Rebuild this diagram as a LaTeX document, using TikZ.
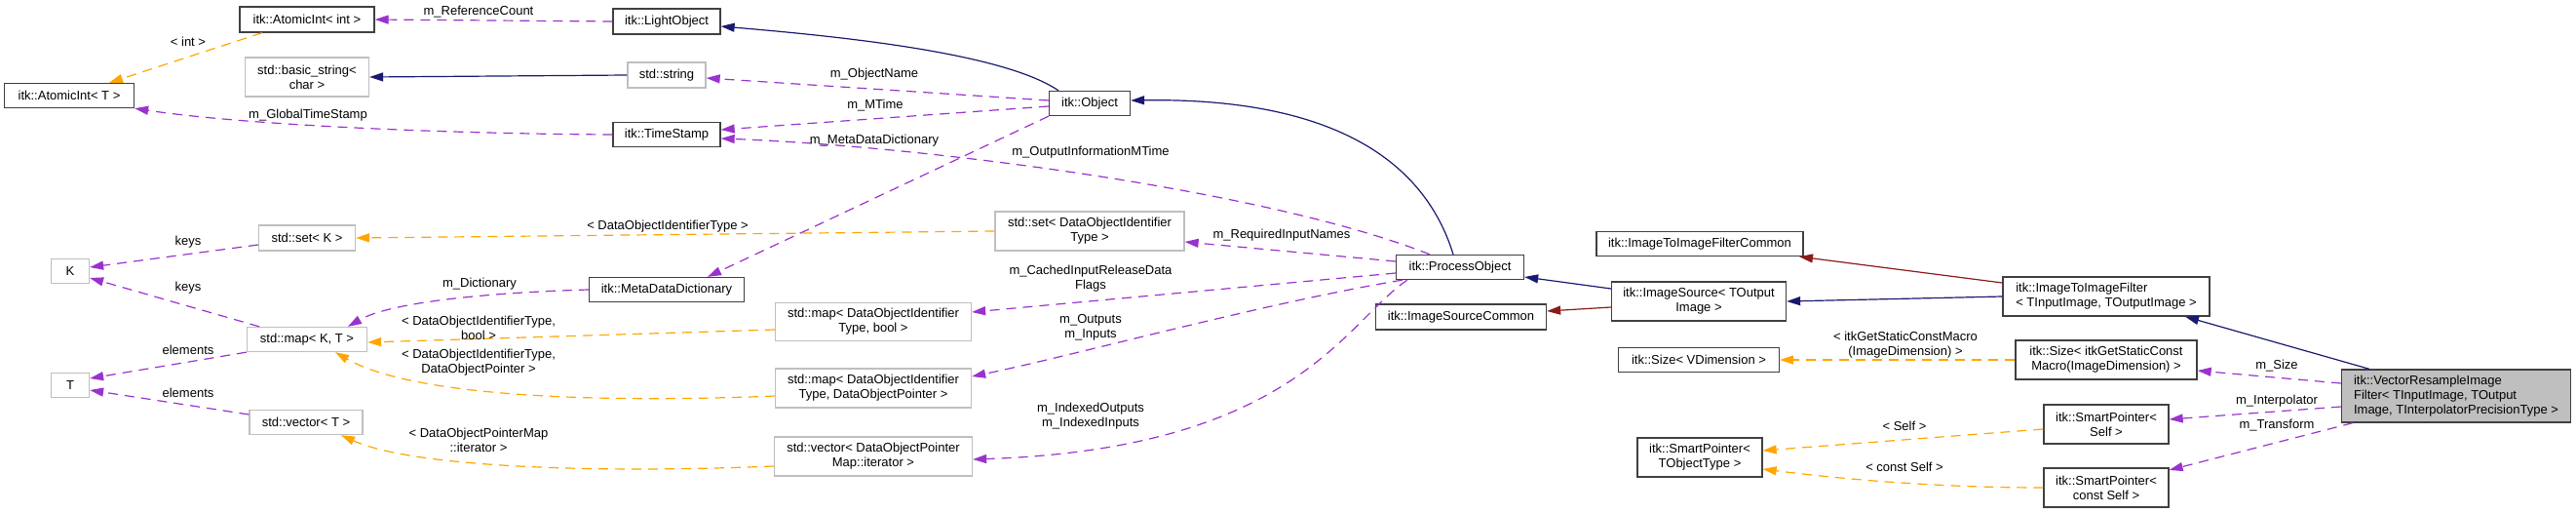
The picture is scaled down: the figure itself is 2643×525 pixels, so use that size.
\documentclass[tikz,border=0pt]{standalone}
\usepackage{fontspec}
\setmainfont{Liberation Sans}
\usetikzlibrary{arrows.meta}
\definecolor{inheritblue}{HTML}{191970}
\definecolor{privatered}{HTML}{8B1A1A}
\definecolor{usagepurple}{HTML}{9A32CD}
\definecolor{templorange}{HTML}{FFA500}
\definecolor{boxgrey}{HTML}{BFBFBF}
\definecolor{framedark}{HTML}{404040}
\tikzset{
  classnode/.style = {rectangle, inner sep=0pt, align=center,
    font=\fontsize{13}{15}\selectfont, line width=1.3pt, fill=white},
  doc_node/.style = {classnode, draw=framedark},% classe documentee
  undoc_node/.style = {classnode, draw=boxgrey},% classe externe (std, K, T)
  main_node/.style = {classnode, draw=framedark, fill=boxgrey},% classe du graphe
  edge_label/.style = {inner sep=0pt, align=center,
    font=\fontsize{13}{15}\selectfont},
  base_edge/.style = {-{Triangle[length=14pt,width=9pt]}, line width=1.2pt},
  public_edge/.style = {base_edge, draw=inheritblue},% heritage
  private_edge/.style = {base_edge, draw=privatered},% heritage prive
  usage_edge/.style = {base_edge, draw=usagepurple,
    dash pattern=on 10pt off 7pt},% membre
  templ_edge/.style = {base_edge, draw=templorange,
    dash pattern=on 10pt off 7pt}% instance de template
}
\begin{document}
\begin{tikzpicture}[x=1pt, y=-1pt]
  \useasboundingbox (0,0) rectangle (2643,525);
  % colonne de gauche
  \node [doc_node, minimum width=138pt, minimum height=26pt] (atomic_int) at (315,20) {itk::AtomicInt< int >};
  \node [doc_node, minimum width=133pt, minimum height=25pt] (atomic_t) at (71,98) {itk::AtomicInt< T >};
  \node [undoc_node, minimum width=127pt, minimum height=40pt] (basic_string) at (315,79) {std::basic\_string<\\char >};
  \node [undoc_node, minimum width=99pt, minimum height=26pt] (set_k) at (315,244) {std::set< K >};
  \node [undoc_node, minimum width=39pt, minimum height=25pt] (key_k) at (72,278) {K};
  \node [undoc_node, minimum width=39pt, minimum height=25pt] (elem_t) at (72,395) {T};
  \node [undoc_node, minimum width=123pt, minimum height=25pt] (map_kt) at (315,348) {std::map< K, T >};
  \node [undoc_node, minimum width=116pt, minimum height=25pt] (vector_t) at (314,433) {std::vector< T >};
  % colonne du milieu
  \node [doc_node, minimum width=110pt, minimum height=26pt] (light_obj) at (684,22) {itk::LightObject};
  \node [undoc_node, minimum width=80pt, minimum height=26pt] (std_string) at (684,77) {std::string};
  \node [doc_node, minimum width=110pt, minimum height=25pt] (time_stamp) at (684,138) {itk::TimeStamp};
  \node [doc_node, minimum width=159pt, minimum height=25pt] (meta_dict) at (684,297) {itk::MetaDataDictionary};
  \node [undoc_node, minimum width=201pt, minimum height=39pt] (map_bool) at (896,330) {std::map< DataObjectIdentifier\\Type, bool >};
  \node [undoc_node, minimum width=201pt, minimum height=40pt] (map_ptr) at (896,398) {std::map< DataObjectIdentifier\\Type, DataObjectPointer >};
  \node [undoc_node, minimum width=203pt, minimum height=40pt] (vector_it) at (896,468) {std::vector< DataObjectPointer\\Map::iterator >};
  \node [doc_node, minimum width=83pt, minimum height=25pt] (itk_object) at (1118,106) {itk::Object};
  \node [undoc_node, minimum width=194pt, minimum height=40pt] (set_id) at (1118,237) {std::set< DataObjectIdentifier\\Type >};
  % colonne de droite
  \node [doc_node, minimum width=131pt, minimum height=25pt] (process_obj) at (1498,274) {itk::ProcessObject};
  \node [doc_node, minimum width=175pt, minimum height=26pt] (source_common) at (1499,325) {itk::ImageSourceCommon};
  \node [doc_node, minimum width=179pt, minimum height=40pt] (image_source) at (1743,309) {itk::ImageSource< TOutput\\Image >};
  \node [doc_node, minimum width=212pt, minimum height=25pt] (filter_common) at (1744,250) {itk::ImageToImageFilterCommon};
  \node [doc_node, minimum width=165pt, minimum height=25pt] (size_vdim) at (1743,369) {itk::Size< VDimension >};
  \node [doc_node, minimum width=128pt, minimum height=40pt] (smart_obj) at (1744,469) {itk::SmartPointer<\\TObjectType >};
  \node [doc_node, align=left, minimum width=212pt, minimum height=40pt] (image_filter) at (2161,304) {itk::ImageToImageFilter\\< TInputImage, TOutputImage >};
  \node [doc_node, minimum width=186pt, minimum height=40pt] (size_macro) at (2161,369) {itk::Size< itkGetStaticConst\\Macro(ImageDimension) >};
  \node [doc_node, minimum width=128pt, minimum height=40pt] (smart_self) at (2161,435) {itk::SmartPointer<\\Self >};
  \node [doc_node, minimum width=128pt, minimum height=40pt] (smart_const) at (2161,500) {itk::SmartPointer<\\const Self >};
  \node [main_node, align=left, minimum width=235pt, minimum height=54pt] (vec_resample) at (2520,406) {itk::VectorResampleImage\\Filter< TInputImage, TOutput\\Image, TInterpolatorPrecisionType >};

  % heritage
  \draw [public_edge] (std_string.west) -- (basic_string.east);
  \draw [public_edge] ([xshift=-32pt]itk_object.north) .. controls (1030,55) and (870,38) .. ([yshift=-5pt]light_obj.east);
  \draw [public_edge] ([xshift=-7pt]process_obj.north) .. controls (1460,160) and (1360,100) .. ([yshift=3pt]itk_object.east);
  \draw [public_edge] ([yshift=13pt]image_source.west) -- ([yshift=-10pt]process_obj.east);
  \draw [private_edge] ([yshift=-6pt]image_source.west) -- ([yshift=6pt]source_common.east);
  \draw [private_edge] ([yshift=14pt]image_filter.west) -- ([xshift=102pt]filter_common.south);
  \draw [public_edge] (image_filter.west) -- (image_source.east);
  \draw [public_edge] ([xshift=-89pt]vec_resample.north) -- ([xshift=81pt]image_filter.south);

  % membres
  \draw [usage_edge] (light_obj.west) -- (atomic_int.east);
  \draw [usage_edge] (time_stamp.west) .. controls (450,137) and (250,128) .. (atomic_t.south east);
  \draw [usage_edge] ([yshift=3pt]itk_object.west) -- ([yshift=-3pt]std_string.east);
  \draw [usage_edge] ([yshift=-3pt]itk_object.west) -- ([yshift=5pt]time_stamp.east);
  \draw [usage_edge] (itk_object.south west) -- ([xshift=42pt]meta_dict.north);
  \draw [usage_edge] ([xshift=-31pt]process_obj.north) .. controls (1300,195) and (950,150) .. ([yshift=-4pt]time_stamp.east);
  \draw [usage_edge] ([yshift=6pt]process_obj.west) -- ([yshift=-11pt]set_id.east);
  \draw [usage_edge] ([yshift=-6pt]process_obj.west) -- ([yshift=10pt]map_bool.east);
  \draw [usage_edge] ([xshift=7pt]process_obj.south west) .. controls (1300,310) and (1100,365) .. ([yshift=12pt]map_ptr.east);
  \draw [usage_edge] ([xshift=12pt]process_obj.south west) .. controls (1380,330) and (1330,460) .. ([yshift=-3pt]vector_it.east);
  \draw [usage_edge] (meta_dict.west) .. controls (500,300) and (400,310) .. ([xshift=42pt]map_kt.north);
  \draw [usage_edge] ([yshift=-7pt]set_k.west) -- ([yshift=4pt]key_k.east);
  \draw [usage_edge] ([xshift=-49pt]map_kt.north) -- ([yshift=-7pt]key_k.east);
  \draw [usage_edge] (map_kt.south west) -- ([yshift=7pt]elem_t.east);
  \draw [usage_edge] ([yshift=8pt]vector_t.west) -- ([yshift=-5pt]elem_t.east);
  \draw [usage_edge] ([yshift=13pt]vec_resample.west) -- ([yshift=-11pt]size_macro.east);
  \draw [usage_edge] ([yshift=-11pt]vec_resample.west) -- ([yshift=5pt]smart_self.east);
  \draw [usage_edge] ([xshift=-106pt]vec_resample.south) -- ([yshift=18pt]smart_const.east);

  % instances de template
  \draw [templ_edge] ([xshift=-46pt]atomic_int.south) -- ([xshift=41pt]atomic_t.north);
  \draw [templ_edge] (set_id.west) -- (set_k.east);
  \draw [templ_edge] ([yshift=-8pt]map_bool.west) -- ([yshift=-3pt]map_kt.east);
  \draw [templ_edge] ([yshift=-8pt]map_ptr.west) .. controls (600,414) and (420,405) .. ([xshift=29pt]map_kt.south);
  \draw [templ_edge] ([yshift=-10pt]vector_it.west) .. controls (600,486) and (420,478) .. ([xshift=36pt]vector_t.south);
  \draw [templ_edge] (size_macro.west) -- (size_vdim.east);
  \draw [templ_edge] ([yshift=-5pt]smart_self.west) -- ([yshift=7pt]smart_obj.east);
  \draw [templ_edge] (smart_const.west) .. controls (1980,500) and (1880,490) .. ([yshift=-12pt]smart_obj.east);

  % etiquettes
  \node [edge_label] (lbl_refcount) at (491,12) {m\_ReferenceCount};
  \node [edge_label] (lbl_int) at (193,43) {< int >};
  \node [edge_label] (lbl_globalts) at (316,118) {m\_GlobalTimeStamp};
  \node [edge_label] (lbl_objname) at (897,76) {m\_ObjectName};
  \node [edge_label] (lbl_mtime) at (898,108) {m\_MTime};
  \node [edge_label] (lbl_metadict) at (897,144) {m\_MetaDataDictionary};
  \node [edge_label] (lbl_outinfo) at (1119,156) {m\_OutputInformationMTime};
  \node [edge_label] (lbl_reqnames) at (1315,241) {m\_RequiredInputNames};
  \node [edge_label] (lbl_cached) at (1119,286) {m\_CachedInputReleaseData\\Flags};
  \node [edge_label] (lbl_inout) at (1119,336) {m\_Outputs\\m\_Inputs};
  \node [edge_label] (lbl_indexed) at (1119,427) {m\_IndexedOutputs\\m\_IndexedInputs};
  \node [edge_label] (lbl_dict) at (492,291) {m\_Dictionary};
  \node [edge_label] (lbl_keys_set) at (193,248) {keys};
  \node [edge_label] (lbl_keys_map) at (193,295) {keys};
  \node [edge_label] (lbl_elem_map) at (193,359) {elements};
  \node [edge_label] (lbl_elem_vec) at (193,403) {elements};
  \node [edge_label] (lbl_idtype) at (685,232) {< DataObjectIdentifierType >};
  \node [edge_label] (lbl_idbool) at (491,336) {< DataObjectIdentifierType,\\bool >};
  \node [edge_label] (lbl_idptr) at (491,372) {< DataObjectIdentifierType,\\DataObjectPointer >};
  \node [edge_label] (lbl_mapiter) at (491,451) {< DataObjectPointerMap\\::iterator >};
  \node [edge_label] (lbl_dim) at (1955,354) {< itkGetStaticConstMacro\\(ImageDimension) >};
  \node [edge_label] (lbl_self) at (1954,437) {< Self >};
  \node [edge_label] (lbl_cself) at (1954,479) {< const Self >};
  \node [edge_label] (lbl_size) at (2336,375) {m\_Size};
  \node [edge_label] (lbl_interp) at (2336,411) {m\_Interpolator};
  \node [edge_label] (lbl_transform) at (2336,436) {m\_Transform};
\end{tikzpicture}
\end{document}
